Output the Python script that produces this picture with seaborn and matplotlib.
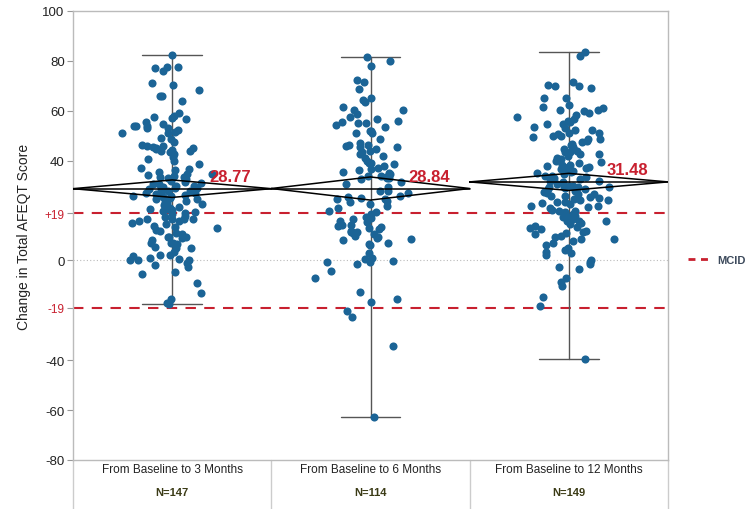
import numpy as np
import pandas as pd
import matplotlib
matplotlib.use("Agg")
import matplotlib.pyplot as plt
import seaborn as sns
from matplotlib.lines import Line2D

categories = ["From Baseline to 3 Months", "From Baseline to 6 Months", "From Baseline to 12 Months"]

change_3m = [82.4, 77.7, 77.7, 77.0, 76.0, 71.3, 70.3, 68.4, 65.8, 65.8, 63.9, 59.2, 58.0, 57.6, 57.1,
             56.6, 55.5, 54.5, 53.7, 53.7, 53.7, 53.2, 52.9, 52.1, 51.5, 50.9, 50.9, 49.2, 48.5, 47.5,
             46.4, 46.0, 45.5, 45.2, 45.0, 44.5, 44.4, 44.0, 43.7, 43.5, 42.5, 41.5, 40.5, 39.8, 38.5,
             37.0, 36.5, 36.1, 35.5, 34.8, 34.5, 34.1, 33.8, 33.4, 33.0, 32.5, 32.0, 31.4, 31.0, 30.5,
             30.0, 29.5, 29.0, 28.7, 28.5, 28.0, 27.7, 27.1, 27.0, 26.5, 26.1, 26.0, 25.5, 25.0, 24.5,
             24.0, 23.5, 23.3, 23.0, 22.6, 22.2, 22.0, 21.5, 21.0, 20.8, 20.5, 20.2, 20.0, 19.6, 19.1,
             18.6, 18.0, 17.5, 16.8, 16.8, 16.8, 16.8, 16.0, 15.8, 15.0, 14.5, 14.0, 13.5, 13.0, 12.4,
             12.0, 11.1, 10.5, 9.5, 9.5, 9.5, 9.0, 8.0, 7.1, 7.1, 7.1, 6.5, 5.5, 4.9, 4.9,
             3.5, 2.0, 2.0, 1.7, 1.1, 0.5, 0.0, 0.0, 0.0, -0.9, -1.9, -2.5, -4.7, -5.6, -9.2,
             -13.0, -15.6, -17.2, -17.5, 30.8, 29.8, 27.5, 25.8, 24.8, 33.6, 45.8, 29.15]

change_6m = [81.7, 79.8, 78.1, 72.5, 71.4, 68.7, 65.0, 64.2, 63.5, 61.4, 60.4, 60.4, 58.7, 57.5, 56.7,
             55.9, 55.6, 55.0, 54.9, 54.3, 53.5, 52.0, 51.1, 51.0, 48.5, 47.0, 46.4, 46.4, 46.0, 45.5,
             45.5, 44.7, 43.9, 43.6, 42.5, 41.8, 41.0, 40.0, 39.0, 38.5, 37.8, 37.0, 36.4, 35.3, 35.0,
             34.5, 34.0, 33.8, 33.5, 33.2, 33.0, 32.5, 31.5, 30.6, 29.5, 28.0, 28.0, 27.0, 26.0, 25.5,
             24.5, 24.0, 23.5, 22.5, 22.0, 21.0, 20.0, 19.4, 18.5, 17.5, 16.9, 16.5, 16.0, 15.5, 14.3,
             14.0, 13.5, 13.0, 12.5, 12.0, 11.4, 11.3, 11.0, 10.6, 10.0, 9.3, 9.0, 8.6, 8.0, 7.0,
             6.5, 6.0, 14.2, 25.0, 24.5, 3.0, 1.1, 0.5, -0.3, -0.8, -0.8, -1.5, -4.4, -7.2, -12.8,
             -15.5, -16.5, -20.1, -22.8, -34.3, -62.8, 52.0, 39.0, 36.5]

change_12m = [83.7, 81.8, 71.4, 70.5, 70.0, 70.0, 69.0, 65.0, 65.0, 62.5, 61.5, 61.2, 60.4, 60.4, 60.0,
              58.5, 57.5, 56.7, 56.0, 55.5, 54.7, 54.7, 53.0, 52.4, 52.4, 51.0, 51.0, 50.5, 50.0, 49.5,
              48.7, 48.7, 48.0, 47.3, 46.3, 45.5, 44.5, 43.6, 43.6, 42.7, 42.7, 42.0, 41.0, 40.0, 39.4,
              39.0, 38.3, 38.3, 37.8, 37.3, 37.0, 36.5, 36.5, 36.2, 35.5, 35.0, 34.6, 34.0, 33.5, 33.0,
              32.5, 32.0, 31.3, 30.5, 30.0, 30.0, 29.5, 29.5, 29.5, 29.5, 29.0, 28.5, 28.0, 27.5, 27.0,
              26.5, 26.0, 25.5, 25.0, 24.5, 24.2, 24.2, 23.4, 23.3, 22.9, 22.5, 21.9, 21.5, 21.0, 20.3,
              20.0, 19.9, 19.3, 18.5, 18.0, 17.4, 17.4, 16.5, 15.9, 15.9, 15.9, 15.0, 14.5, 14.0, 13.5,
              13.0, 12.5, 12.0, 11.5, 11.0, 10.5, 10.0, 9.5, 8.6, 8.6, 7.8, 7.0, 6.0, 5.0, 4.0,
              3.2, 3.0, 2.0, 0.3, -0.5, -1.6, -2.8, -3.3, -7.2, -8.8, -10.1, -14.5, -18.2, -39.5,
              26.0, 44.9, 59.0, 53.5, 50.0, 46.8, 44.0, 40.5, 37.5, 35.8, 33.8, 31.8, 28.8, 26.8, 22.0]

series = [change_3m, change_6m, change_12m]
mean_labels = ["28.77", "28.84", "31.48"]
ytick_values = [-80, -60, -40, -19, 0, 19, 40, 60, 80, 100]
ytick_labels = ["-80", "-60", "-40", "-19", "0", "+19", "40", "60", "80", "100"]
mcid = 19

# horizontal jitter (layout only), concentrated near the category centre
rng = np.random.default_rng(7)
rows = []
for i, (c, v) in enumerate(zip(categories, series)):
    off = np.clip(rng.normal(0, 0.1, len(v)), -0.28, 0.28)
    for o, val in zip(off, v):
        rows.append((c, i + o, val))
df = pd.DataFrame(rows, columns=["period", "xpos", "change"])

sns.set_style("white")
plt.rcParams["font.family"] = ["Liberation Sans", "DejaVu Sans"]

fig = plt.figure(figsize=(7.47, 5.10), dpi=100)
ax = fig.add_axes([73 / 747, 1 - 461 / 510, (668 - 73) / 747, (461 - 12) / 510])

sns.scatterplot(data=df, x="xpos", y="change", s=34, color="#1b6496", linewidth=0,
                ax=ax, zorder=3, legend=False)

red = "#c8202f"
ax.axhline(mcid, color=red, lw=1.5, dashes=(5, 4), zorder=2)
ax.axhline(-mcid, color=red, lw=1.5, dashes=(5, 4), zorder=2)
ax.axhline(0, color="#bbbbbb", lw=0.8, ls=(0, (1, 2)), zorder=1)

for i, vals in enumerate(series):
    v = np.asarray(vals)
    m = v.mean()
    half = 1.96 * v.std(ddof=1) / np.sqrt(len(v))
    ax.plot([i, i], [v.min(), v.max()], color="#555555", lw=1.0, zorder=2)
    for e in (v.min(), v.max()):
        ax.plot([i - 0.15, i + 0.15], [e, e], color="#555555", lw=1.0, zorder=2)
    ax.plot([i - 0.5, i, i + 0.5, i, i - 0.5], [m, m + half, m, m - half, m], color="black", lw=1.1, zorder=4)
    ax.plot([i - 0.5, i + 0.5], [m, m], color="black", lw=1.1, zorder=4)
    ax.text(i + 0.19, m + 5, mean_labels[i], color=red, fontsize=12, fontweight="bold",
            va="center", ha="left", zorder=5)
    ax.text(i, -83.5, categories[i], ha="center", va="center", fontsize=8.5, color="#222222",
            clip_on=False)
    ax.text(i, -93, f"N={len(v)}", ha="center", va="center", fontsize=8, color="#3b3b16",
            fontweight="bold", clip_on=False)

ax.set_xlim(-0.5, 2.5)
ax.set_ylim(-80, 100)
ax.set_xticks([])
ax.set_xlabel("")
ax.set_yticks(ytick_values)
ax.set_yticklabels(ytick_labels)
ax.tick_params(axis="y", left=True, length=4, width=0.8, color="#999999", labelsize=9.5,
               labelcolor="#222222", pad=2)
for lbl in ax.get_yticklabels():
    if lbl.get_text() in ("+19", "-19"):
        lbl.set_color(red)
        lbl.set_fontsize(8.5)
ax.set_ylabel("Change in Total AFEQT Score", fontsize=10, color="#222222", labelpad=8)
for s in ax.spines.values():
    s.set_color("#bbbbbb")
    s.set_linewidth(1.0)

# bottom category band lines
bl = ax.get_xaxis_transform()
for xv in (-0.5, 0.5, 1.5, 2.5):
    ax.plot([xv, xv], [0, -0.11], transform=bl, color="#cccccc", lw=1.0, clip_on=False)

# legend
handle = Line2D([], [], color=red, lw=2, dashes=(2.5, 2))
fig.legend([handle], ["MCID"], loc="center left", bbox_to_anchor=(688 / 747, 1 - 261 / 510),
           frameon=False, handlelength=2.0, handletextpad=0.6, borderpad=0, borderaxespad=0,
           prop={"size": 8, "weight": "bold"}, labelcolor="#3d4a5c")

fig.savefig("out.png", dpi=100)
